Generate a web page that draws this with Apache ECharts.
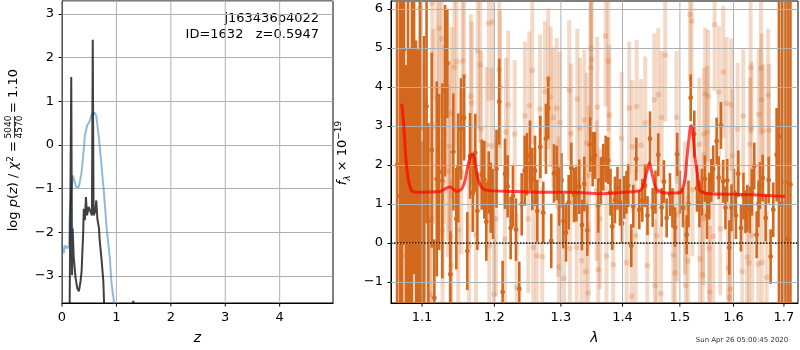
<!DOCTYPE html>
<html>
<head>
    <meta charset="utf-8">
    <title>zfit j163436p4022</title>
    <script src="https://cdn.jsdelivr.net/npm/echarts@6.0.0/dist/echarts.min.js"></script>
    <style>
        html, body {margin: 0; padding: 0; background: #fff;}
        #chart {width: 800px; height: 350px;}
    </style>
</head>
<body>
<div id="chart"></div>
<script>
    // ---- p(z) panel ----
    var zTicks = [0, 1, 2, 3, 4];
    var zBlue = [0, 0.03, 0.06, 0.1, 0.13, 0.14, 0.17, 0.2, 0.23, 0.26, 0.31, 0.36, 0.39, 0.42, 0.46, 0.51, 0.55, 0.6, 0.63, 0.68, 0.72, 0.77, 0.82, 0.88, 0.91, 0.95, 0.98];
    var pzBlue = [-2.26, -2.48, -2.3, -2.37, -2.3, -1.7, -1.1, -0.7, -0.66, -0.96, -0.96, -0.62, -0.24, 0.21, 0.44, 0.55, 0.71, 0.74, 0.67, 0.14, -0.39, -1.08, -1.91, -2.6, -3.17, -3.54, -3.9];
    var zBlack = [0.14, 0.17, 0.185, 0.195, 0.215, 0.25, 0.28, 0.31, 0.34, 0.36, 0.39, 0.40, 0.42, 0.44, 0.46, 0.49, 0.52, 0.55, 0.565, 0.58, 0.61, 0.63, 0.65, 0.68, 0.69, 0.73, 0.76, 0.78, 1.29, 1.31, 1.33];
    var pzBlack = [-3.8, 1.56, -2.98, -1.91, -2.56, -3.05, -3.28, -3.35, -3.13, -2.9, -1.99, -1.46, -1.72, -1.19, -1.61, -1.42, -1.46, -1.61, 2.41, -1.61, -1.53, -1.27, -1.69, -1.91, -2.14, -2.67, -3.13, -3.9, -3.8, -3.57, -3.8];

    // ---- spectrum panel ----
    var lamTicks = [1.1, 1.2, 1.3, 1.4, 1.5, 1.6, 1.7];
    var fluxTicks = [-1, 0, 1, 2, 3, 4, 5, 6];

    // binned points (dark)
    var darkLam = [1.0675, 1.0713, 1.0739, 1.0764, 1.0790, 1.0816, 1.0842, 1.0868, 1.0895, 1.0921, 1.0948, 1.0974, 1.1000, 1.1026, 1.1060, 1.1084, 1.1129, 1.1164, 1.1197, 1.1228,
        1.1272, 1.1309, 1.1340, 1.1381, 1.1422, 1.1463, 1.1490, 1.1527, 1.1570, 1.1616, 1.1654, 1.1692, 1.1728, 1.1757, 1.1819, 1.1856, 1.1884, 1.1919, 1.1947, 1.1980,
        1.2031, 1.2071, 1.2120, 1.2154, 1.2193, 1.2237, 1.2271, 1.2316, 1.2365, 1.2401, 1.2446, 1.2480, 1.2525, 1.2560, 1.2601, 1.2636, 1.2682, 1.2727, 1.2768, 1.2804,
        1.2850, 1.2892, 1.2934, 1.2974, 1.3009, 1.3037, 1.3080, 1.3122, 1.3163, 1.3206, 1.3243, 1.3290, 1.3333, 1.3371, 1.3419, 1.3467, 1.3506, 1.3543, 1.3597, 1.3641,
        1.3679, 1.3719, 1.3762, 1.3798, 1.3828, 1.3873, 1.3915, 1.3957, 1.3991, 1.4029, 1.4067, 1.4097, 1.4148, 1.4183, 1.4233, 1.4285, 1.4337, 1.4383, 1.4427, 1.4470,
        1.4517, 1.4566, 1.4615, 1.4675, 1.4715, 1.4763, 1.4822, 1.4866, 1.4911, 1.4952, 1.5001, 1.5056, 1.5123, 1.5156, 1.5196, 1.5262, 1.5311, 1.5357, 1.5403, 1.5459,
        1.5496, 1.5539, 1.5577, 1.5614, 1.5678, 1.5716, 1.5759, 1.5803, 1.5845, 1.5879, 1.5918, 1.5960, 1.6008, 1.6046, 1.6091, 1.6143, 1.6192, 1.6231, 1.6266, 1.6319,
        1.6358, 1.6404, 1.6451, 1.6487, 1.6516, 1.6570, 1.6630, 1.6690, 1.6730, 1.6783, 1.6851, 1.6898, 1.6959, 1.7020, 1.7076, 1.7133];
    var darkFlux = [2.0, 1.2, 3.0, 4.95, 0.06, 2.6, 1.0, 2.07, 3.2, 1.69, 0.96, 2.94, -0.4, 1.8, 3.5, 0.57, 2.38, -1.41, 1.64, 1.82,
        1.59, 3.9, 4.6, -0.8, 2.33, 0.62, 1.92, 2.92, 3.21, -0.21, 2.23, 1.28, 2.31, 0.82, 1.75, 1.62, 0.54, 1.55, 1.16, 1.0,
        1.9, 3.62, -1.26, 1.77, 1.45, 0.38, 1.2, 0.34, -1.18, 0.99, 1.85, 2.02, 2.24, 1.64, 1.85, 0.82, 2.46, 0.77, 2.67, 3.46,
        0.05, 1.78, 1.79, 1.19, 1.6, 0.56, 0.27, 1.04, 1.92, 1.23, 1.25, 1.44, 0.46, 1.51, 0.32, 2.52, 2.15, 2.24, 0.96, 1.6,
        1.94, 2.15, 2.11, 1.3, 0.42, 1.1, 1.4, 1.04, 0.5, 1.17, 1.3, 1.47, -0.07, 0.94, 2.15, 0.85, 1.09, 1.47, 0.7, 2.67,
        0.91, 1.3, 2.26, 0.91, 1.57, 0.64, 1.24, 0.9, 0.40, 2.27, 1.3, 0.9, 0.21, 1.0, 3.72, 2.79, 1.4, 1.0, 1.3, 1.64,
        0.7, 1.2, 1.6, 1.9, 2.61, 1.67, 3.01, 1.58, 0.9, 1.6, -0.12, 0.9, 1.3, 0.7, 1.77, 0.38, 1.2, 0.8, 0.89, 0.85,
        1.3, 1.97, 0.21, 1.0, 1.47, 1.66, 0.64, 1.61, -0.35, 0.85, 2.26, 2.73, 1.0, 1.56, 0.10, 1.5];
    var darkErr = [6, 5, 5, 5, 4.5, 5, 4, 4.5, 4, 3.5, 4, 4.5, 3, 3.5, 3, 2.5, 2.5, 1.5, 2.5, 2,
        2.5, 2.2, 1.4, 1.1, 1.5, 1.3, 1.4, 1.3, 1.1, 1.0, 1.1, 1.0, 1.0, 1.0, 0.9, 1.0, 1.0, 0.8, 0.9, 0.9,
        1.0, 1.1, 0.8, 0.9, 0.8, 0.8, 0.8, 0.8, 0.7, 0.8, 0.9, 0.8, 0.9, 0.8, 0.9, 0.8, 0.8, 0.8, 0.9, 0.8,
        0.7, 0.75, 0.7, 0.75, 0.7, 0.7, 0.75, 0.7, 0.65, 0.7, 0.7, 0.7, 0.65, 0.7, 0.65, 0.7, 0.7, 0.6, 0.7, 0.6,
        0.6, 0.6, 0.6, 0.6, 0.6, 0.6, 0.55, 0.6, 0.5, 0.55, 0.55, 0.55, 0.55, 0.55, 0.55, 0.5, 0.55, 0.55, 0.5, 0.7,
        0.5, 0.55, 0.55, 0.5, 0.55, 0.5, 0.55, 0.5, 0.5, 0.55, 0.55, 0.5, 0.5, 0.6, 0.6, 0.6, 0.6, 0.6, 0.6, 0.6,
        0.6, 0.6, 0.55, 0.6, 0.6, 0.55, 0.6, 0.55, 0.55, 0.55, 0.7, 0.6, 0.6, 0.6, 0.6, 0.6, 0.6, 0.55, 0.6, 0.6,
        0.6, 0.6, 0.6, 0.6, 0.6, 0.6, 0.6, 0.6, 0.7, 0.7, 1.2, 8, 8, 8, 8, 8];

    // unbinned points (light)
    var lightLam = [1.0750, 1.0842, 1.0880, 1.0974, 1.1026, 1.1053, 1.1106, 1.1129, 1.1137, 1.1150, 1.1204, 1.1231, 1.1264, 1.1275, 1.1296, 1.1350, 1.1368, 1.1384, 1.1388, 1.1400,
        1.1436, 1.1468, 1.1490, 1.1532, 1.1550, 1.1570, 1.1640, 1.1664, 1.1678, 1.1738, 1.1762, 1.1795, 1.1809, 1.1890, 1.1919, 1.1927, 1.1961, 1.1973, 1.1994, 1.2023,
        1.2071, 1.2081, 1.2154, 1.2168, 1.2202, 1.2297, 1.2326, 1.2450, 1.2500, 1.2515, 1.2560, 1.2575, 1.2627, 1.2677, 1.2712, 1.2753, 1.2804, 1.2841, 1.2881, 1.2934,
        1.2959, 1.2970, 1.2985, 1.3048, 1.3131, 1.3142, 1.3158, 1.3249, 1.3259, 1.3301, 1.3328, 1.3371, 1.3393, 1.3409, 1.3435, 1.3446, 1.3473, 1.3478, 1.3489, 1.3570,
        1.3581, 1.3597, 1.3625, 1.3719, 1.3732, 1.3762, 1.3779, 1.3845, 1.3985, 1.4070, 1.4114, 1.4155, 1.4165, 1.4223, 1.4240, 1.4314, 1.4388, 1.4423, 1.4545, 1.4557,
        1.4587, 1.4615, 1.4663, 1.4675, 1.4738, 1.4881, 1.4911, 1.4941, 1.4952, 1.5092, 1.5105, 1.5147, 1.5183, 1.5214, 1.5228, 1.5353, 1.5366, 1.5416, 1.5427, 1.5440,
        1.5465, 1.5502, 1.5521, 1.5534, 1.5552, 1.5615, 1.5640, 1.5721, 1.5747, 1.5804, 1.5867, 1.5893, 1.5925, 1.5941, 1.5956, 1.5979, 1.6079, 1.6169, 1.6188, 1.6266,
        1.6299, 1.6319, 1.6332, 1.6352, 1.6364, 1.6483, 1.6491, 1.6536, 1.6550, 1.6556, 1.6582, 1.6650, 1.6682, 1.6696, 1.6918];
    var lightFlux = [-0.33, -0.33, 3.5, 6.02, 1.57, 0.72, -1.33, 0.62, 6.15, 2.98, 3.72, 5.5, 5.23, 0.32, 2.79, 1.84, 2.47, 0.16, -0.58, 3.33,
        4.5, 4.65, 0.33, 1.81, 4.67, 4.27, -0.07, 3.76, 3.59, 0.21, 4.93, 4.56, 2.92, 2.51, 5.63, -0.07, 2.49, 5.66, -1.31, 0.62,
        4.44, 3.99, 0.1, 2.84, 3.54, 2.79, -1.14, 3.26, 0.62, 3.52, 4.42, -0.11, -0.33, 3.44, -0.35, 3.88, 4.21, 3.74, 3.21, 3.45,
        0.93, -0.62, 3.09, -0.91, 3.91, -0.14, 2.8, -0.12, 3.69, 2.94, -0.45, 3.15, -0.73, 2.56, -1.28, 1.73, 4.5, 4.99, 4.7, 1.34,
        3.48, -0.68, 0.62, 5.3, -0.33, 4.66, 3.28, -0.56, 2.68, -0.5, 3.46, -1.37, 2.47, 0.19, 3.5, 2.5, 3.08, -0.58, 3.67, -1.09,
        0.19, 3.8, -1.3, 3.22, 4.81, -0.31, -0.77, 3.22, 0.72, 0.9, -1.09, -0.46, 5.85, 5.69, 1.36, 2.53, -0.41, -0.82, 0.62, 2.79,
        3.82, 2.84, 3.76, -0.14, -1.26, 0.17, 5.59, 3.86, 0.36, 4.38, 3.58, -0.65, -1.39, -1.19, 3.54, 2.24, 2.92, -0.73, 3.26, -0.37,
        -0.51, 2.53, 4.5, 2.94, 0.19, -0.54, 3.29, 4.48, 3.67, -0.5, 2.87, -0.88, 3.79, 2.89, 3.01];
    var lightErr = [3, 3, 3, 3, 3, 3, 2.5, 2.5, 2.5, 2.5, 2.5, 2.3, 2.3, 2.3, 2.3, 2.2, 2.2, 2.2, 2.2, 2.2,
        2.2, 2.2, 2.1, 2.1, 2.1, 2.1, 2.1, 2.1, 2.1, 2.0, 2.0, 2.0, 2.0, 2.0, 2.0, 2.0, 2.0, 2.0, 2.0, 2.0,
        2.0, 2.0, 1.9, 1.9, 1.9, 1.9, 1.9, 1.9, 1.9, 1.9, 1.9, 1.9, 1.9, 1.9, 1.8, 1.8, 1.8, 1.8, 1.8, 1.8,
        1.8, 1.8, 1.8, 1.8, 1.8, 1.8, 1.8, 1.8, 1.8, 1.8, 1.8, 1.8, 1.8, 1.8, 1.8, 1.8, 1.8, 1.8, 1.8, 1.8,
        1.8, 1.8, 1.8, 1.8, 1.8, 1.8, 1.8, 1.8, 1.7, 1.7, 1.7, 1.7, 1.7, 1.7, 1.7, 1.7, 1.7, 1.7, 1.7, 1.7,
        1.7, 1.7, 1.7, 1.7, 1.7, 1.7, 1.7, 1.7, 1.7, 1.7, 1.7, 1.7, 1.7, 1.7, 1.7, 1.7, 1.7, 1.7, 1.7, 1.7,
        1.7, 1.7, 1.7, 1.7, 1.7, 1.7, 1.7, 1.7, 1.7, 1.7, 1.7, 1.7, 1.7, 1.7, 1.7, 1.7, 1.7, 1.7, 1.7, 1.7,
        1.7, 1.7, 1.7, 1.7, 1.7, 1.7, 1.7, 1.7, 1.7, 1.7, 1.7, 1.7, 1.7, 1.7, 1.8];

    // best-fit model
    var modelLam = [1.0735, 1.0756, 1.0790, 1.0820, 1.0864, 1.0930, 1.1241, 1.1323, 1.1377, 1.1431, 1.1468, 1.1537, 1.1577, 1.1606, 1.1640, 1.1678, 1.1703, 1.1724, 1.1771, 1.1809,
        1.1842, 1.1937, 1.2227, 1.2677, 1.3196, 1.3625, 1.4015, 1.4297, 1.4349, 1.4383, 1.4427, 1.4458, 1.4487, 1.4528, 1.4566, 1.4615, 1.4733, 1.4970, 1.5037, 1.5092,
        1.5129, 1.5165, 1.5196, 1.5220, 1.5244, 1.5274, 1.5305, 1.5339, 1.5366, 1.5459, 1.5552, 1.6451, 1.7020];
    var modelFlux = [3.56, 3.14, 2.15, 1.64, 1.34, 1.30, 1.32, 1.40, 1.43, 1.36, 1.32, 1.38, 1.55, 1.81, 2.1, 2.28, 2.25, 2.07, 1.6, 1.45,
        1.38, 1.34, 1.32, 1.30, 1.30, 1.26, 1.30, 1.34, 1.45, 1.64, 1.9, 2.05, 1.9, 1.64, 1.42, 1.34, 1.28, 1.28, 1.35, 1.64,
        2.2, 2.67, 3.0, 2.95, 2.7, 2.2, 1.9, 1.55, 1.34, 1.28, 1.26, 1.23, 1.19];

    var zMin = 0, zMax = 4.98, pzMin = -3.62, pzMax = 3.30;
    var lamMin = 1.0597, lamMax = 1.729, fluxMin = -1.54, fluxMax = 6.2;

    var FONT = 'DejaVu Sans';
    var GRIDC = '#b0b0b0';
    var ORANGE = '#d2691e';
    var ORANGE_LIGHT = 'rgba(210,105,30,0.25)';

    function minus(v) {
        return v < 0 ? '\u2212' + Math.abs(v) : String(v);
    }

    function zip2(a, b) {
        return a.map(function (v, i) { return [v, b[i]]; });
    }

    // wavelength axis is logarithmic: plot against ln(lambda)
    function errData(lam, f, e) {
        return lam.map(function (l, i) { return [Math.log(l), f[i], e[i]]; });
    }

    function errRender(barW, dotR, color) {
        return function (params, api) {
            var x = api.value(0), y = api.value(1), e = api.value(2);
            var hi = api.coord([x, y + e]);
            var lo = api.coord([x, y - e]);
            var c = api.coord([x, y]);
            var cs = params.coordSys;
            var box = {x: cs.x, y: cs.y, width: cs.width, height: cs.height};
            var rect = echarts.graphic.clipRectByRect({
                x: hi[0] - barW / 2, y: hi[1], width: barW, height: lo[1] - hi[1]
            }, box);
            var kids = [];
            if (rect) kids.push({type: 'rect', shape: rect, style: {fill: color}});
            if (c[1] >= cs.y && c[1] <= cs.y + cs.height) {
                kids.push({type: 'circle', shape: {cx: c[0], cy: c[1], r: dotR}, style: {fill: color}});
            }
            return {type: 'group', children: kids};
        };
    }

    // horizontal grid lines of the spectrum, above the error bars
    function hGridRender(params, api) {
        var p = api.coord([api.value(0), api.value(1)]);
        var cs = params.coordSys;
        return {type: 'rect', shape: {x: cs.x, y: Math.round(p[1]), width: cs.width, height: 1}, style: {fill: GRIDC}};
    }

    // vertical grid lines and x ticks as plain line series (one segment per tick)
    function vSegments(axisIdx, xs, y0, y1, color, z, clip) {
        return xs.map(function (v) {
            return {
                type: 'line', xAxisIndex: axisIdx, yAxisIndex: axisIdx, z: z, silent: true,
                data: [[v, y0], [v, y1]], showSymbol: false, symbol: 'none', clip: clip,
                lineStyle: {color: color, width: 1}, emphasis: {disabled: true}
            };
        });
    }

    var labelStyle = {color: '#000', fontFamily: FONT, fontSize: 13};
    var axisLineStyle = {show: true, onZero: false, lineStyle: {color: '#000', width: 1}};
    var tickStyle = {show: true, length: 3.5, lineStyle: {color: '#000', width: 1}};
    var intFmt = function (v) { return minus(Math.round(v)); };

    var chart = echarts.init(document.getElementById('chart'), null, {renderer: 'canvas'});

    var lnTicks = lamTicks.map(Math.log);
    var series = [].concat(
        vSegments(0, zTicks, pzMin, pzMax, GRIDC, 1, true),
        vSegments(0, zTicks, pzMin, pzMin - 0.08, '#000', 5, false),
        [
            {
                type: 'line', xAxisIndex: 0, yAxisIndex: 0, z: 2, data: zip2(zBlue, pzBlue),
                showSymbol: false, clip: true,
                lineStyle: {color: 'rgba(31,119,180,0.5)', width: 2}
            },
            {
                type: 'line', xAxisIndex: 0, yAxisIndex: 0, z: 2, data: zip2(zBlack, pzBlack),
                showSymbol: false, clip: true,
                lineStyle: {color: 'rgba(0,0,0,0.75)', width: 2}
            },
            {
                type: 'custom', xAxisIndex: 1, yAxisIndex: 1, z: 2,
                data: errData(lightLam, lightFlux, lightErr),
                renderItem: errRender(4, 2.8, ORANGE_LIGHT)
            },
            {
                type: 'custom', xAxisIndex: 1, yAxisIndex: 1, z: 2,
                data: errData(darkLam, darkFlux, darkErr),
                renderItem: errRender(2.6, 2.4, ORANGE)
            },
            {
                type: 'custom', xAxisIndex: 1, yAxisIndex: 1, z: 3, silent: true,
                data: fluxTicks.map(function (v) { return [Math.log(1.3), v]; }),
                renderItem: hGridRender
            }
        ],
        vSegments(1, lnTicks, fluxMin, fluxMax, GRIDC, 3, true),
        vSegments(1, lnTicks, fluxMin, fluxMin - 0.09, '#000', 5, false),
        [
            {
                type: 'line', xAxisIndex: 1, yAxisIndex: 1, z: 4,
                data: modelLam.map(function (l, i) { return [Math.log(l), modelFlux[i]]; }),
                showSymbol: false, smooth: 0.3, clip: true,
                lineStyle: {color: 'rgba(255,0,0,0.7)', width: 3},
                markLine: {
                    silent: true, symbol: 'none', label: {show: false},
                    lineStyle: {color: '#111', width: 1.5, type: [1.5, 1.5]},
                    data: [{yAxis: 0}]
                }
            }
        ]
    );

    var texts = [
        {type: 'text', style: {text: 'j163436p4022', x: 319, y: 19, align: 'right', verticalAlign: 'middle', fontFamily: FONT, fontSize: 13, fill: '#000'}},
        {type: 'text', style: {text: 'ID=1632   z=0.5947', x: 319, y: 35, align: 'right', verticalAlign: 'middle', fontFamily: FONT, fontSize: 13, fill: '#000'}},
        // left y label: log p(z) / chi^2 = 5040/4570 = 1.10
        {
            type: 'group', x: 14, y: 127, rotation: Math.PI / 2,
            children: [
                {type: 'text', style: {
                    text: '{n|log }{i|p}{n|(}{i|z}{n|) / }{i|χ}{s|2}{n| =}', x: -14, y: 0, align: 'right', verticalAlign: 'middle',
                    rich: {
                        n: {fontFamily: FONT, fontSize: 13, fill: '#000', lineHeight: 16},
                        i: {fontFamily: FONT, fontSize: 13, fontStyle: 'italic', fill: '#000', lineHeight: 16},
                        s: {fontFamily: FONT, fontSize: 9, fill: '#000', lineHeight: 9, verticalAlign: 'top'}
                    }
                }},
                {type: 'text', style: {text: '5040', x: 0, y: -5, align: 'center', verticalAlign: 'middle', fontFamily: FONT, fontSize: 9, fill: '#000'}},
                {type: 'line', shape: {x1: -11, y1: 0.5, x2: 11, y2: 0.5}, style: {stroke: '#000', lineWidth: 0.8}},
                {type: 'text', style: {text: '4570', x: 0, y: 6, align: 'center', verticalAlign: 'middle', fontFamily: FONT, fontSize: 9, fill: '#000'}},
                {type: 'text', style: {text: '= 1.10', x: 14, y: 0, align: 'left', verticalAlign: 'middle', fontFamily: FONT, fontSize: 13, fill: '#000'}}
            ]
        },
        // right y label: f_lambda x 10^-19
        {
            type: 'group', x: 343, y: 153, rotation: Math.PI / 2,
            children: [
                {type: 'text', style: {
                    text: '{i|f}{b|λ}{n| × 10}{s|−19}', x: 0, y: 0, align: 'center', verticalAlign: 'middle',
                    rich: {
                        n: {fontFamily: FONT, fontSize: 13, fill: '#000', lineHeight: 18},
                        i: {fontFamily: FONT, fontSize: 13, fontStyle: 'italic', fill: '#000', lineHeight: 18},
                        s: {fontFamily: FONT, fontSize: 9, fill: '#000', lineHeight: 9, verticalAlign: 'top'},
                        b: {fontFamily: FONT, fontSize: 9, fontStyle: 'italic', fill: '#000', lineHeight: 9, verticalAlign: 'bottom'}
                    }
                }}
            ]
        },
        {type: 'text', style: {text: 'Sun Apr 26 05:00:45 2020', x: 742, y: 340, align: 'center', verticalAlign: 'middle', fontFamily: FONT, fontSize: 7, fill: '#333'}}
    ];

    var option = {
        animation: false,
        grid: [
            {left: 62, top: 1, width: 271, height: 303, show: true, borderColor: '#000', borderWidth: 1},
            {left: 391, top: 1, width: 407, height: 303, show: true, borderColor: '#000', borderWidth: 1}
        ],
        xAxis: [
            {
                type: 'value', gridIndex: 0, min: zMin, max: zMax, interval: 1,
                name: 'z', nameLocation: 'middle', nameGap: 28,
                nameTextStyle: {fontFamily: FONT, fontSize: 14, fontStyle: 'italic', color: '#000'},
                axisLine: axisLineStyle, axisTick: {show: false}, splitLine: {show: false},
                axisLabel: Object.assign({formatter: intFmt, showMaxLabel: false}, labelStyle)
            },
            {
                type: 'value', gridIndex: 1, min: Math.log(lamMin), max: Math.log(lamMax),
                name: 'λ', nameLocation: 'middle', nameGap: 28,
                nameTextStyle: {fontFamily: FONT, fontSize: 14, fontStyle: 'italic', color: '#000'},
                axisLine: axisLineStyle, axisTick: {show: false}, splitLine: {show: false},
                axisLabel: Object.assign({customValues: lnTicks, formatter: function (v) { return Math.exp(v).toFixed(1); }}, labelStyle)
            }
        ],
        yAxis: [
            {
                type: 'value', gridIndex: 0, min: pzMin, max: pzMax, minInterval: 1, maxInterval: 1,
                axisLine: axisLineStyle, axisTick: tickStyle,
                splitLine: {show: true, lineStyle: {color: GRIDC, width: 1}},
                axisLabel: Object.assign({formatter: intFmt, showMinLabel: false, showMaxLabel: false}, labelStyle)
            },
            {
                type: 'value', gridIndex: 1, min: fluxMin, max: fluxMax, minInterval: 1, maxInterval: 1,
                axisLine: axisLineStyle, axisTick: tickStyle, splitLine: {show: false},
                axisLabel: Object.assign({formatter: intFmt, showMinLabel: false, showMaxLabel: false}, labelStyle)
            }
        ],
        graphic: texts,
        series: series
    };

    chart.setOption(option);
</script>
</body>
</html>
